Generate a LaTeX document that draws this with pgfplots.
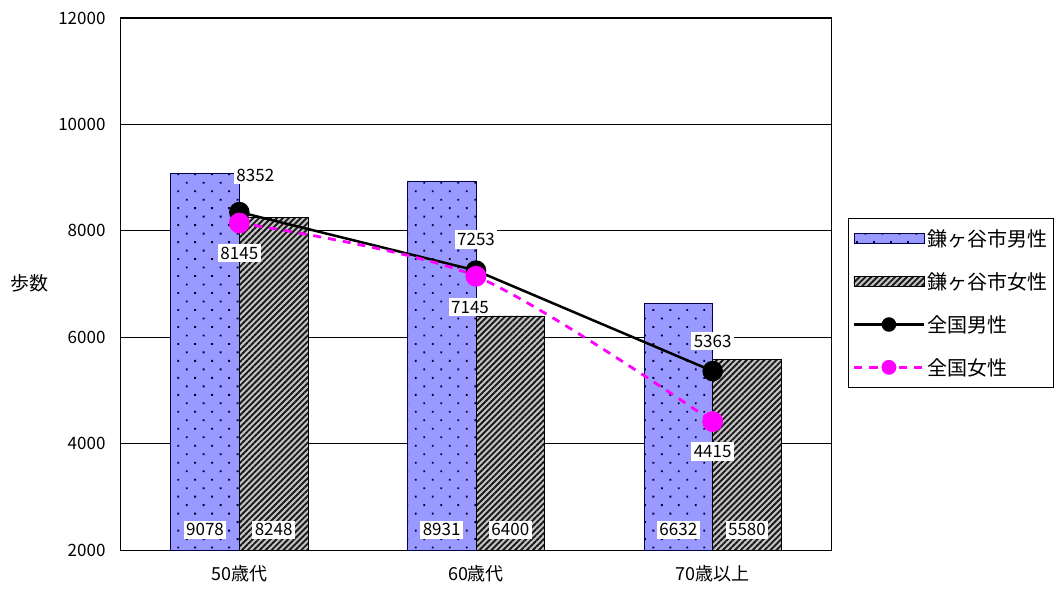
\documentclass[border=0pt]{standalone}
\usepackage{fontspec}
\setmainfont{Noto Sans CJK JP}
\usepackage{pgfplots}
\pgfplotsset{compat=1.18}
\usetikzlibrary{patterns.meta,calc}

\definecolor{maleblue}{HTML}{9999FF}
\definecolor{femgray}{HTML}{C4C4C4}
\definecolor{pink}{HTML}{FF00FF}

\pgfplotsset{
  barleg/.style={legend image code/.code={\draw[##1] (0pt,-5pt) rectangle (70pt,5pt);}},
  lineleg/.style={legend image code/.code={\draw[##1, mark repeat=2, mark phase=2, mark size=6pt] plot coordinates {(0pt,0pt) (35pt,0pt) (70pt,0pt)};}},
}

\begin{document}
\begin{tikzpicture}[
    lbl/.style={fill=white, inner xsep=2.5pt, inner ysep=3pt, font=\fontsize{17}{19}\selectfont}
  ]
\begin{axis}[
    scale only axis, width=710pt, height=532pt,
    xmin=-0.5, xmax=2.5, ymin=2000, ymax=12000,
    ytick={2000,4000,...,12000},
    ymajorgrids, grid style={black, line width=0.9pt},
    axis line style={black, line width=1pt},
    ytick style={draw=none},
    xtick={0,1,2}, xticklabels={50歳代,60歳代,70歳以上},
    major x tick style={draw=none},
    extra x ticks={0.5,1.5}, extra x tick labels={},
    extra x tick style={grid=none, major tick length=6pt,
      major x tick style={black, line width=1pt}},
    xtick pos=bottom,
    scaled y ticks=false,
    yticklabel style={/pgf/number format/1000 sep={}, xshift=-12pt, font=\fontsize{17}{19}\selectfont},
    xticklabel style={yshift=-12pt, font=\fontsize{18}{20}\selectfont},
    /pgf/number format/assume math mode=true,
    clip=false,
    legend style={at={(rel axis cs:1.024,0.624)}, anchor=north west,
      draw=black, line width=1pt, font=\fontsize{20}{23}\selectfont,
      row sep=20.5pt, inner xsep=4pt, inner ysep=9pt,
      nodes={inner sep=2pt}},
    legend cell align=left,
  ]
  % 鎌ヶ谷市 bars
  \addplot[ybar, bar width=0.29, bar shift=-0.145, draw=black!70!blue, line width=0.8pt,
    fill=maleblue, postaction={pattern={Dots[distance=12pt, angle=45, radius=1.3pt]}, pattern color=black!80!blue},
    barleg]
    coordinates {(0,9078) (1,8931) (2,6632)};
  \addlegendentry{鎌ヶ谷市男性}
  \addplot[ybar, bar width=0.29, bar shift=0.145, draw=black, line width=0.8pt,
    fill=femgray, postaction={pattern={Lines[angle=45, distance=4.2pt, line width=1.9pt]}, pattern color=black!90},
    barleg]
    coordinates {(0,8248) (1,6400) (2,5580)};
  \addlegendentry{鎌ヶ谷市女性}
  % 全国 lines
  \addplot[black, line width=2.5pt, mark=*, mark size=9pt, mark options={fill=black}, lineleg]
    coordinates {(0,8352) (1,7253) (2,5363)};
  \addlegendentry{全国男性}
  \addplot[pink, line width=2.8pt, dash pattern=on 8pt off 7pt, smooth, mark=*, mark size=9pt,
    mark options={solid, fill=pink, draw=pink}, lineleg]
    coordinates {(0,8145) (1,7145) (2,4415)};
  \addlegendentry{全国女性}

  % value labels of the bars
  \node[lbl] at (axis cs:-0.145,2380) {9078};
  \node[lbl] at (axis cs:0.145,2380) {8248};
  \node[lbl] at (axis cs:0.855,2380) {8931};
  \node[lbl] at (axis cs:1.145,2380) {6400};
  \node[lbl] at (axis cs:1.855,2380) {6632};
  \node[lbl] at (axis cs:2.145,2380) {5580};
  % value labels of the lines
  \node[lbl, xshift=16pt, yshift=37pt] at (axis cs:0,8352) {8352};
  \node[lbl, yshift=-30pt] at (axis cs:0,8145) {8145};
  \node[lbl, yshift=31pt] at (axis cs:1,7253) {7253};
  \node[lbl, xshift=-6pt, yshift=-31pt] at (axis cs:1,7145) {7145};
  \node[lbl, yshift=30pt] at (axis cs:2,5363) {5363};
  \node[lbl, yshift=-30pt] at (axis cs:2,4415) {4415};

  \node[font=\fontsize{19}{22}\selectfont] at (rel axis cs:0,0) [xshift=-91pt, yshift=267pt] {歩数};
  \coordinate (O) at (rel axis cs:0,0);
\end{axis}
\path ($(O)+(-121pt,-40pt)$) rectangle ($(O)+(934pt,550pt)$);
\end{tikzpicture}
\end{document}
